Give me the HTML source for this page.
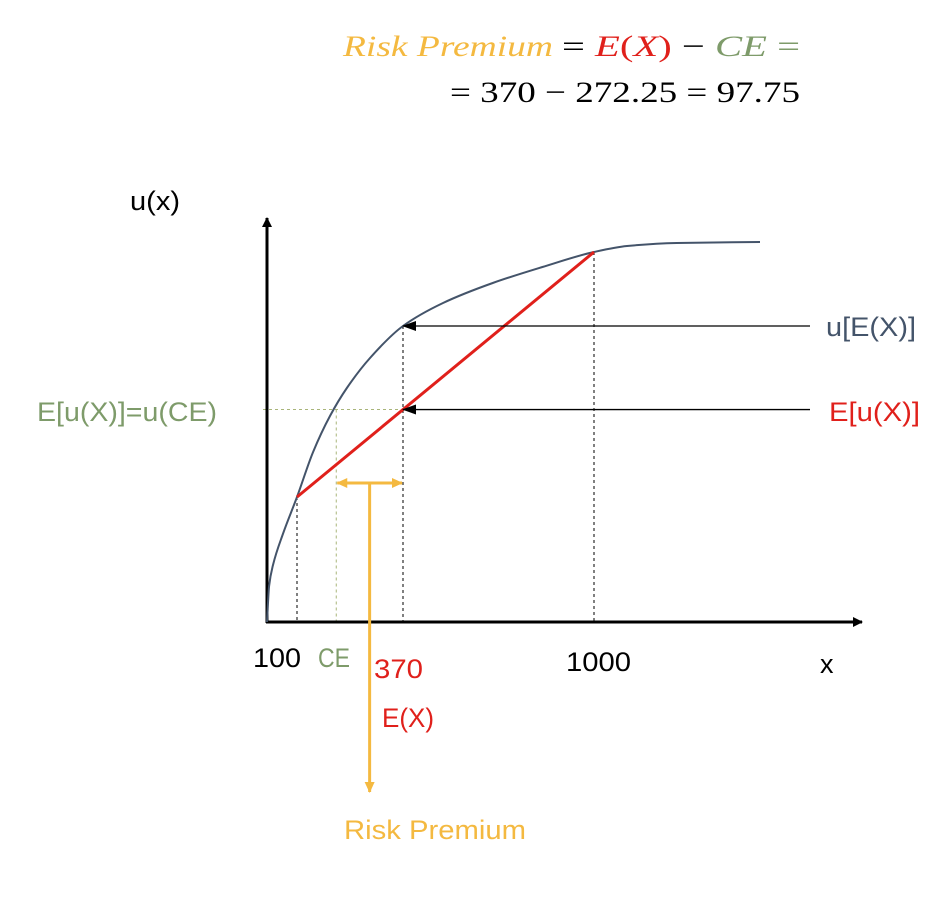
<!DOCTYPE html>
<html><head><meta charset="utf-8"><style>
body{margin:0;background:#fff;width:942px;height:908px;overflow:hidden}
svg text{font-family:"Liberation Sans",sans-serif}
.m{font-family:"Liberation Serif",serif;font-size:30px}
</style></head><body>
<svg id="c" width="942" height="908" viewBox="0 0 942 908">
<defs>
<marker id="ab" markerWidth="10" markerHeight="10" refX="9" refY="5" orient="auto" markerUnits="userSpaceOnUse"><path d="M0,0 L10,5 L0,10z" fill="#000"/></marker>
<marker id="ay" markerWidth="12" markerHeight="12" refX="10" refY="6" orient="auto-start-reverse" markerUnits="userSpaceOnUse"><path d="M0,1 L11,6 L0,11z" fill="#F4B940"/></marker>
<marker id="aa" markerWidth="14" markerHeight="14" refX="13" refY="7" orient="auto" markerUnits="userSpaceOnUse"><path d="M0,2 L14,7 L0,12z" fill="#000"/></marker>
</defs>
<text class="m" x="343" y="56" font-style="italic" fill="#F4B940" textLength="210" lengthAdjust="spacingAndGlyphs">Risk Premium</text>
<text class="m" x="562" y="56" textLength="238" lengthAdjust="spacingAndGlyphs"><tspan>=</tspan> <tspan font-style="italic" fill="#E0201B">E</tspan><tspan fill="#E0201B">(</tspan><tspan font-style="italic" fill="#E0201B">X</tspan><tspan fill="#E0201B">)</tspan> − <tspan font-style="italic" fill="#7E9B6A">CE</tspan> <tspan fill="#7E9B6A">=</tspan></text>
<text class="m" x="450" y="102" textLength="350" lengthAdjust="spacingAndGlyphs">= 370 − 272.25 = 97.75</text>
<g id="plot"></g>
<text x="130" y="210" font-size="27" textLength="50" lengthAdjust="spacingAndGlyphs">u(x)</text>
<text x="820" y="673" font-size="27">x</text>
<text x="253" y="667" font-size="27" textLength="48" lengthAdjust="spacingAndGlyphs">100</text>
<text x="318" y="667" font-size="27" fill="#7E9B6A" textLength="32" lengthAdjust="spacingAndGlyphs">CE</text>
<text x="374" y="678" font-size="27" fill="#E0201B" textLength="49" lengthAdjust="spacingAndGlyphs">370</text>
<text x="382" y="727" font-size="27" fill="#E0201B" textLength="52" lengthAdjust="spacingAndGlyphs">E(X)</text>
<text x="566" y="671" font-size="27" textLength="65" lengthAdjust="spacingAndGlyphs">1000</text>
<text x="826" y="336" font-size="27" fill="#44546A" textLength="90" lengthAdjust="spacingAndGlyphs">u[E(X)]</text>
<text x="829" y="421" font-size="27" fill="#E0201B" textLength="91" lengthAdjust="spacingAndGlyphs">E[u(X)]</text>
<text x="37" y="421" font-size="27" fill="#7E9B6A" textLength="180" lengthAdjust="spacingAndGlyphs">E[u(X)]=u(CE)</text>
<text x="344" y="839" font-size="27" fill="#F4B940" textLength="182" lengthAdjust="spacingAndGlyphs">Risk Premium</text>
</svg>
<script>
// x-scale knots (data value -> schematic axis)
const xKnots=[0,100,370,1000,1548];
const curveX=[0,7,20,53,100,141,184,227,286,370,502,666,830,1000,1109,1273,1548];
const curveU=[0,9,14.25,22,31.25,42.5,51.5,58.5,66,74,79.75,84.75,88.75,92.5,94,94.75,95];
const outcomes=[100,1000];
const expectedX=[370];
const certaintyEq=[200];
const pxKnots=[267,297,403,594,760];
function sx(v){for(let i=1;i<xKnots.length;i++){if(v<=xKnots[i]||i==xKnots.length-1){const t=(v-xKnots[i-1])/(xKnots[i]-xKnots[i-1]);return pxKnots[i-1]+t*(pxKnots[i]-pxKnots[i-1]);}}}
function sy(u){return 622-u*4;}
function uAt(v){for(let i=1;i<curveX.length;i++){if(v<=curveX[i]){const t=(v-curveX[i-1])/(curveX[i]-curveX[i-1]);return curveU[i-1]+t*(curveU[i]-curveU[i-1]);}}return curveU[curveU.length-1];}
const g=document.getElementById('plot');const NS='http://www.w3.org/2000/svg';
function el(t,a){const e=document.createElementNS(NS,t);for(const k in a)e.setAttribute(k,a[k]);g.appendChild(e);return e;}
// monotone cubic (Fritsch-Carlson) in pixel space
function monotone(p){const n=p.length,d=[],m=[];
for(let i=0;i<n-1;i++)d.push((p[i+1][1]-p[i][1])/(p[i+1][0]-p[i][0]));
m[0]=d[0];m[n-1]=d[n-2];
for(let i=1;i<n-1;i++){if(d[i-1]*d[i]<=0)m[i]=0;else{const h0=p[i][0]-p[i-1][0],h1=p[i+1][0]-p[i][0];const w1=2*h1+h0,w2=h1+2*h0;m[i]=(w1+w2)/(w1/d[i-1]+w2/d[i]);}}
let s='M'+p[0][0]+','+p[0][1];
for(let i=0;i<n-1;i++){const h=(p[i+1][0]-p[i][0])/3;
s+=' C'+(p[i][0]+h)+','+(p[i][1]+m[i]*h)+' '+(p[i+1][0]-h)+','+(p[i+1][1]-m[i+1]*h)+' '+p[i+1][0]+','+p[i+1][1];}
return s;}
const x0=sx(0),y0=sy(0);
const ua=uAt(outcomes[0]),ub=uAt(outcomes[1]);
const pa=[sx(outcomes[0]),sy(ua)],pb=[sx(outcomes[1]),sy(ub)];
const pe=sx(expectedX[0]);const tE=(pe-pa[0])/(pb[0]-pa[0]);const yEU=pa[1]+tE*(pb[1]-pa[1]);
const pce=sx(certaintyEq[0]);const yUE=sy(uAt(expectedX[0]));
let e;
e=el('line',{x1:x0-4,y1:yEU,x2:pe,y2:yEU,stroke:'#A9B57A','stroke-width':1,'stroke-dasharray':'3,3'});


e=el('line',{x1:pce,y1:yEU,x2:pce,y2:y0,stroke:'#A9B57A','stroke-width':1,'stroke-dasharray':'3,3'});


[[pa[0],pa[1]],[pe,yUE],[pb[0],pb[1]]].forEach((p,i)=>{
e=el('line',{x1:p[0],y1:p[1],x2:p[0],y2:y0,stroke:'#000','stroke-width':1,'stroke-dasharray':'3,3'});

});
e=el('line',{x1:x0,y1:y0+1,x2:x0,y2:218,stroke:'#000','stroke-width':3,'marker-end':'url(#ab)'});


e=el('line',{x1:x0-1,y1:y0,x2:862,y2:y0,stroke:'#000','stroke-width':3,'marker-end':'url(#ab)'});


e=el('path',{d:monotone(curveX.map((v,i)=>[sx(v),sy(curveU[i])])),fill:'none',stroke:'#44546A','stroke-width':2});


e=el('line',{x1:pa[0],y1:pa[1],x2:pb[0],y2:pb[1],stroke:'#E0201B','stroke-width':3});


e=el('line',{x1:810,y1:yUE,x2:pe,y2:yUE,stroke:'#000','stroke-width':1.3,'marker-end':'url(#aa)'});


e=el('line',{x1:810,y1:yEU,x2:pe,y2:yEU,stroke:'#000','stroke-width':1.3,'marker-end':'url(#aa)'});


const ry=483;
e=el('line',{x1:pce+1,y1:ry,x2:pe-1,y2:ry,stroke:'#F4B940','stroke-width':3,'marker-start':'url(#ay)','marker-end':'url(#ay)'});


e=el('line',{x1:(pce+pe)/2,y1:ry,x2:(pce+pe)/2,y2:792,stroke:'#F4B940','stroke-width':3,'marker-end':'url(#ay)'});


</script>
</body></html>
